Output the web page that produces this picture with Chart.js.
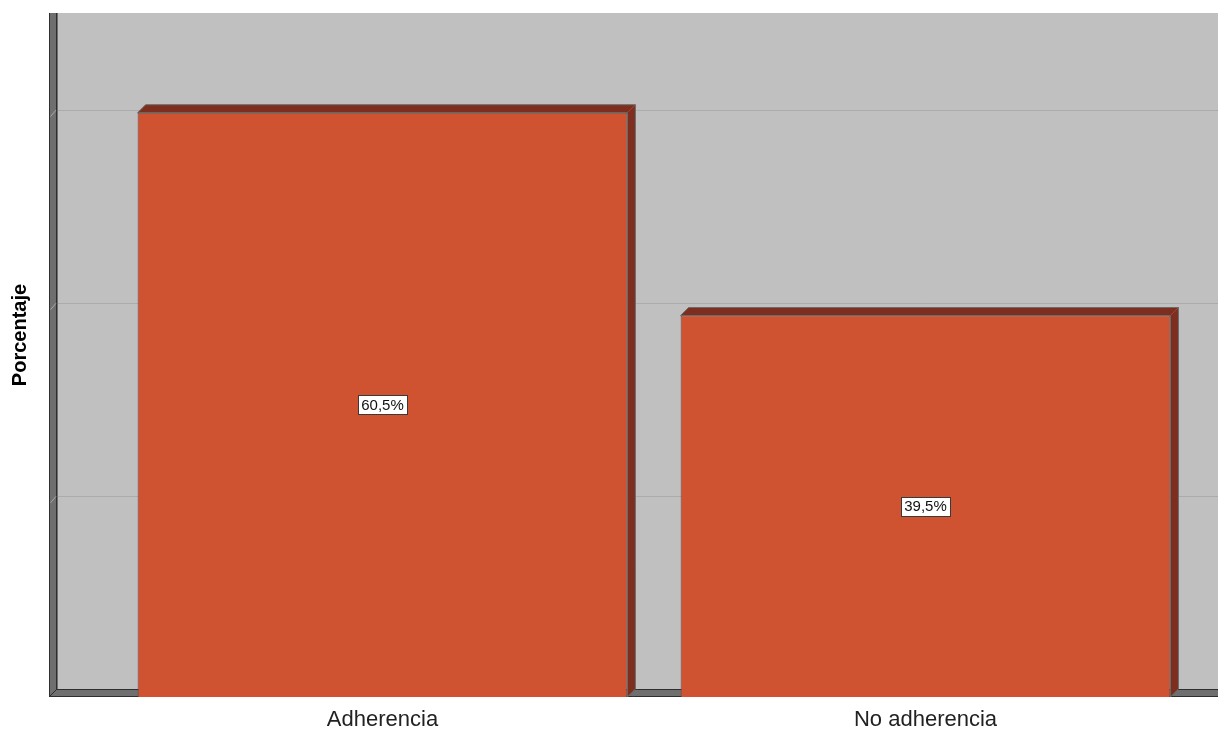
<!DOCTYPE html>
<html lang="es">
<head>
  <meta charset="UTF-8" />
  <title>Adherencia - Porcentaje</title>
  <script src="https://cdn.jsdelivr.net/npm/chart.js"></script>
  <style>
    body {
      margin: 0;
      padding: 0;
      background: #ffffff;
    }
    canvas {
      display: block;
    }
  </style>
</head>
<body>
  <canvas id="myChart" width="1218" height="731"></canvas>

  <script>
    const categories = ["Adherencia", "No adherencia"];
    const percentages = [60.5, 39.5];
    const gridValues = [20, 40, 60];
    const axisTitle = "Porcentaje";

    const FONT = "'Liberation Sans', Arial, sans-serif";
    const DEPTH = 8; // 3D offset of back wall

    // walls, floor and grid lines behind the bars
    const backdrop = {
      id: "backdrop",
      beforeDatasetsDraw(chart) {
        const { ctx, scales } = chart;
        const yScale = scales.y;
        const wallX = 49;
        const right = chart.width;
        const top = yScale.getPixelForValue(yScale.max) - DEPTH;
        const floorY = yScale.getPixelForValue(0);

        ctx.save();
        // back plane
        ctx.fillStyle = "#c0c0c0";
        ctx.fillRect(wallX + DEPTH, top, right - wallX - DEPTH, floorY - DEPTH - top);

        // grid lines on the back plane
        gridValues.forEach(v => {
          const gy = Math.round(yScale.getPixelForValue(v) - DEPTH) + 0.5;
          ctx.strokeStyle = "#ababab";
          ctx.lineWidth = 1;
          ctx.beginPath();
          ctx.moveTo(wallX + DEPTH, gy);
          ctx.lineTo(right, gy);
          ctx.stroke();
        });

        // left wall
        ctx.fillStyle = "#6f6f6f";
        ctx.fillRect(wallX, top, DEPTH + 1, floorY - top);
        ctx.strokeStyle = "#2e2e2e";
        ctx.beginPath();
        ctx.moveTo(wallX + 0.5, top);
        ctx.lineTo(wallX + 0.5, floorY);
        ctx.moveTo(wallX + DEPTH - 0.5, top);
        ctx.lineTo(wallX + DEPTH - 0.5, floorY - DEPTH);
        ctx.stroke();

        // small diagonals where the grid lines meet the wall
        gridValues.forEach(v => {
          const gy = yScale.getPixelForValue(v);
          ctx.strokeStyle = "#a8a8a8";
          ctx.beginPath();
          ctx.moveTo(wallX + 1.5, gy - 1);
          ctx.lineTo(wallX + DEPTH - 1, gy - DEPTH + 0.5);
          ctx.stroke();
        });

        // floor
        ctx.fillStyle = "#6f6f6f";
        ctx.beginPath();
        ctx.moveTo(wallX, floorY);
        ctx.lineTo(wallX + DEPTH, floorY - DEPTH);
        ctx.lineTo(right, floorY - DEPTH);
        ctx.lineTo(right, floorY);
        ctx.closePath();
        ctx.fill();
        ctx.strokeStyle = "#2e2e2e";
        ctx.beginPath();
        ctx.moveTo(wallX + DEPTH, floorY - DEPTH + 0.5);
        ctx.lineTo(right, floorY - DEPTH + 0.5);
        ctx.moveTo(wallX, floorY - 0.5);
        ctx.lineTo(right, floorY - 0.5);
        ctx.moveTo(wallX, floorY);
        ctx.lineTo(wallX + DEPTH, floorY - DEPTH);
        ctx.stroke();

        // axis title
        ctx.translate(20, 335);
        ctx.rotate(-Math.PI / 2);
        ctx.fillStyle = "#000000";
        ctx.font = "bold 20px " + FONT;
        ctx.textAlign = "center";
        ctx.textBaseline = "middle";
        ctx.fillText(axisTitle, 0, 0);
        ctx.restore();
      }
    };

    // top and side faces of each bar plus the value boxes
    const bar3d = {
      id: "bar3d",
      afterDatasetsDraw(chart) {
        const { ctx } = chart;
        const meta = chart.getDatasetMeta(0);
        ctx.save();
        meta.data.forEach((bar, i) => {
          const { x, y, base, width } = bar.getProps(["x", "y", "base", "width"], true);
          const l = x - width / 2;
          const r = x + width / 2;

          ctx.fillStyle = "#7d2e1e";
          ctx.strokeStyle = "#6a6a6a";
          ctx.lineWidth = 1;
          ctx.beginPath();
          ctx.moveTo(l, y);
          ctx.lineTo(l + DEPTH, y - DEPTH);
          ctx.lineTo(r + DEPTH, y - DEPTH);
          ctx.lineTo(r + DEPTH, base - DEPTH);
          ctx.lineTo(r, base);
          ctx.lineTo(r, y);
          ctx.closePath();
          ctx.fill();
          ctx.stroke();

          ctx.strokeStyle = "#9a4a38";
          ctx.beginPath();
          ctx.moveTo(r, y);
          ctx.lineTo(r + DEPTH, y - DEPTH);
          ctx.stroke();

          // value label
          const text = percentages[i].toFixed(1).replace(".", ",") + "%";
          ctx.font = "15px " + FONT;
          const tw = ctx.measureText(text).width;
          const bw = Math.round(tw + 6);
          const bh = 19;
          const cy = (y + base) / 2;
          const bx = Math.round(x - bw / 2) + 0.5;
          const by = Math.round(cy - bh / 2) + 0.5;
          ctx.fillStyle = "#ffffff";
          ctx.fillRect(bx, by, bw, bh);
          ctx.strokeStyle = "#3a3a3a";
          ctx.strokeRect(bx, by, bw, bh);
          ctx.fillStyle = "#111111";
          ctx.textAlign = "center";
          ctx.textBaseline = "middle";
          ctx.fillText(text, x, cy + 1);
        });
        ctx.restore();
      }
    };

    const ctx = document.getElementById("myChart").getContext("2d");

    const chart = new Chart(ctx, {
      type: "bar",
      data: {
        labels: categories,
        datasets: [
          {
            label: axisTitle,
            data: percentages,
            backgroundColor: "#d05331",
            borderColor: "#6e4437",
            borderWidth: 1,
            categoryPercentage: 1,
            barPercentage: 0.902
          }
        ]
      },
      options: {
        responsive: false,
        animation: false,
        layout: {
          padding: { left: 111, right: 21, top: 21, bottom: 1 }
        },
        plugins: {
          legend: { display: false },
          tooltip: { enabled: false }
        },
        scales: {
          x: {
            grid: { display: false, drawTicks: false },
            border: { display: false },
            ticks: {
              color: "#222222",
              padding: 12,
              font: { family: FONT, size: 22, lineHeight: 1 }
            },
            afterFit(scale) {
              scale.height = 33;
            }
          },
          y: {
            display: false,
            min: 0,
            max: 70
          }
        }
      },
      plugins: [backdrop, bar3d]
    });
  </script>
</body>
</html>
